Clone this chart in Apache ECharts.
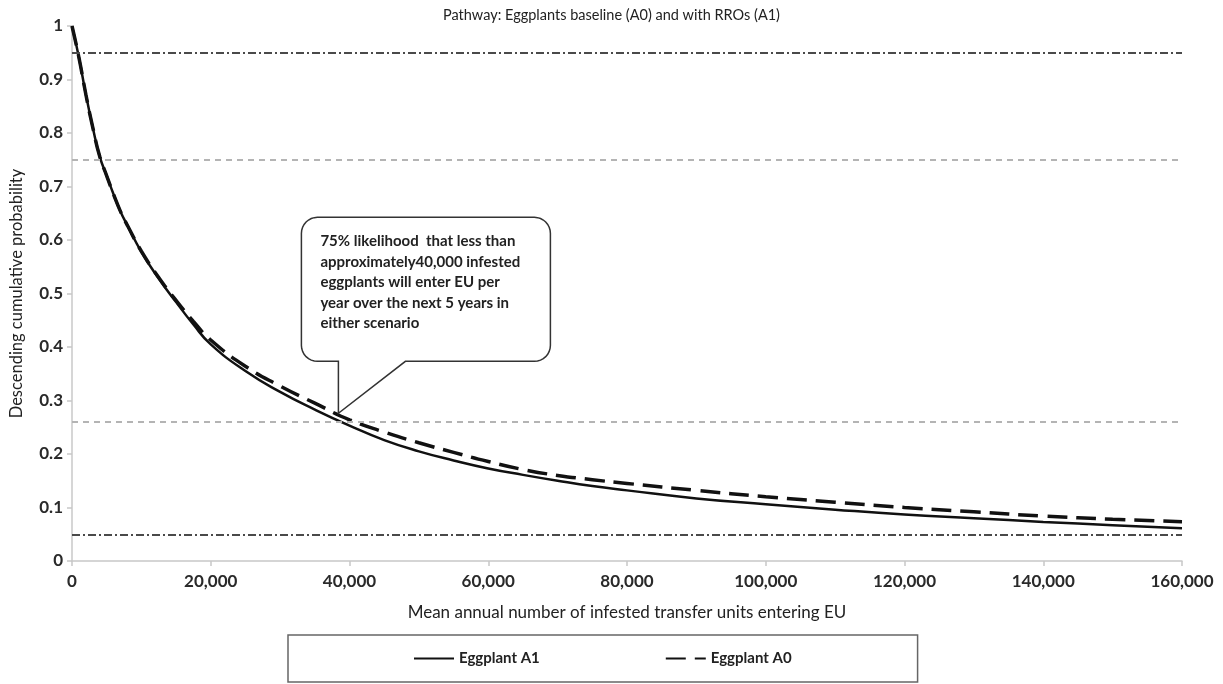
<!DOCTYPE html>
<html>
<head>
<meta charset="utf-8">
<script src="https://cdn.jsdelivr.net/npm/echarts@6/dist/echarts.min.js"></script>
<style>
html,body{margin:0;padding:0;background:#fff;}
#chart{width:1223px;height:684px;}
</style>
</head>
<body>
<div id="chart"></div>
<script>
// ---- data ----
const titleText = 'Pathway: Eggplants baseline (A0) and with RROs (A1)';
const xName = 'Mean annual number of infested transfer units entering EU';
const yName = 'Descending cumulative probability';
const seriesNames = ['Eggplant A1', 'Eggplant A0'];

const xValues = [0, 1000, 2000, 3000, 4000, 5000, 6000, 7000, 8000, 10000, 12500, 15000, 17500, 20000, 25000, 30000, 35000, 40000, 45000, 50000, 55000, 60000, 65000, 70000, 75000, 80000, 90000, 100000, 110000, 120000, 130000, 140000, 150000, 160000];
const a1Values = [1.0, 0.941, 0.872, 0.81, 0.756, 0.72, 0.685, 0.653, 0.627, 0.578, 0.528, 0.484, 0.442, 0.405, 0.355, 0.316, 0.283, 0.253, 0.226, 0.205, 0.188, 0.173, 0.161, 0.150, 0.140, 0.132, 0.117, 0.106, 0.096, 0.087, 0.080, 0.073, 0.067, 0.061];
const a0Values = [1.0, 0.941, 0.872, 0.81, 0.756, 0.72, 0.685, 0.653, 0.627, 0.579, 0.530, 0.487, 0.448, 0.413, 0.364, 0.327, 0.295, 0.264, 0.241, 0.221, 0.203, 0.186, 0.171, 0.160, 0.152, 0.145, 0.132, 0.120, 0.110, 0.100, 0.092, 0.084, 0.078, 0.0735];

const outerRefLines = [0.947, 0.054];   // dash-dot
const innerRefLines = [0.746, 0.255];   // light grey dashed

const calloutTip = [38400, 0.276];
const calloutLines = [
  '75% likelihood  that less than',
  'approximately40,000 infested',
  'eggplants will enter EU per',
  'year over the next 5 years in',
  'either scenario'
];

// ---- chart ----
const FONT = 'Lato';
const chart = echarts.init(document.getElementById('chart'));

function pairs(xs, ys) { return xs.map((x, i) => [x, ys[i]]); }

const refLineData = []
  .concat(outerRefLines.map(v => ({ yAxis: v, lineStyle: { color: '#4a4a4a', width: 2, type: [8, 3, 2, 3] } })))
  .concat(innerRefLines.map(v => ({ yAxis: v, lineStyle: { color: '#b4b4b4', width: 2, type: [6, 5] } })));

const option = {
  animation: false,
  backgroundColor: '#fff',
  textStyle: { fontFamily: FONT },
  title: {
    text: titleText,
    left: 'center',
    top: 3,
    textStyle: { fontFamily: FONT, fontSize: 14.5, fontWeight: 'normal', color: '#222' }
  },
  grid: { left: 72, right: 41, top: 26, bottom: 123, outerBoundsMode: 'none', containLabel: false },
  legend: {
    data: seriesNames,
    left: 288,
    top: 635,
    orient: 'horizontal',
    padding: [16, 126, 16, 125],
    itemGap: 125,
    itemWidth: 40,
    itemHeight: 14,
    borderColor: '#666',
    borderWidth: 1.5,
    backgroundColor: '#fff',
    selectedMode: false,
    itemStyle: { opacity: 0, borderWidth: 0 },
    textStyle: { fontFamily: FONT, fontSize: 15, fontWeight: 'bold', color: '#222' }
  },
  xAxis: {
    type: 'value',
    min: 0,
    max: 160000,
    interval: 20000,
    name: xName,
    nameLocation: 'middle',
    nameGap: 43,
    nameTextStyle: { fontFamily: FONT, fontSize: 17, color: '#222' },
    axisLine: { show: true, lineStyle: { color: '#c8c8c8', width: 1.5 } },
    axisTick: { show: true, length: 5, lineStyle: { color: '#c8c8c8', width: 1.5 } },
    splitLine: { show: false },
    axisLabel: {
      margin: 12,
      fontFamily: FONT, fontSize: 17, fontWeight: 'bold', color: '#2a2a2a',
      formatter: v => v.toLocaleString('en-US')
    }
  },
  yAxis: {
    type: 'value',
    min: 0,
    max: 1,
    interval: 0.1,
    name: yName,
    nameLocation: 'middle',
    nameGap: 47,
    nameTextStyle: { fontFamily: FONT, fontSize: 16.5, color: '#222' },
    axisLine: { show: true, lineStyle: { color: '#c8c8c8', width: 1.5 } },
    axisTick: { show: true, length: 5, lineStyle: { color: '#c8c8c8', width: 1.5 } },
    splitLine: { show: false },
    axisLabel: {
      margin: 9,
      fontFamily: FONT, fontSize: 17, fontWeight: 'bold', color: '#2a2a2a',
      formatter: v => String(Math.round(v * 10) / 10)
    }
  },
  series: [
    {
      name: seriesNames[0],
      type: 'line',
      data: pairs(xValues, a1Values),
      smooth: 0.5,
      symbol: 'none',
      lineStyle: { color: '#111', width: 2.5, type: 'solid' },
      itemStyle: { color: '#111' },
      z: 3,
      markLine: {
        silent: true,
        symbol: 'none',
        label: { show: false },
        data: refLineData
      }
    },
    {
      name: seriesNames[1],
      type: 'line',
      data: pairs(xValues, a0Values),
      smooth: 0.5,
      symbol: 'none',
      lineStyle: { color: '#111', width: 3.5, type: [20, 9] },
      itemStyle: { color: '#111' },
      z: 4
    }
  ]
};

chart.setOption(option);

// callout anchored at a data point via the chart's own scales
const tip = chart.convertToPixel({ xAxisIndex: 0, yAxisIndex: 0 }, calloutTip);
const L = tip[0] - 37, R = tip[0] + 212, T = tip[1] - 196, B = tip[1] - 52, r = 16;
const p1 = tip[0], p2 = tip[0] + 67;

function arc(cx, cy, a0, a1, pts) {
  const n = 8;
  for (let i = 0; i <= n; i++) {
    const a = a0 + (a1 - a0) * i / n;
    pts.push([cx + r * Math.cos(a), cy + r * Math.sin(a)]);
  }
}
const pts = [];
arc(L + r, T + r, Math.PI, 1.5 * Math.PI, pts);          // top-left
arc(R - r, T + r, 1.5 * Math.PI, 2 * Math.PI, pts);      // top-right
arc(R - r, B - r, 0, 0.5 * Math.PI, pts);                // bottom-right
pts.push([p2, B]);
pts.push([tip[0], tip[1]]);
pts.push([p1, B]);
arc(L + r, B - r, 0.5 * Math.PI, Math.PI, pts);          // bottom-left

chart.setOption({
  graphic: [
    {
      type: 'polygon',
      z: 100,
      shape: { points: pts },
      style: { fill: '#fff', stroke: '#333', lineWidth: 1.5 }
    },
    {
      type: 'text',
      z: 101,
      x: L + 19,
      y: T + 14,
      style: {
        text: calloutLines.join('\n'),
        fill: '#222',
        font: 'bold 15px ' + FONT,
        lineHeight: 20.5
      }
    }
  ]
});
</script>
</body>
</html>
